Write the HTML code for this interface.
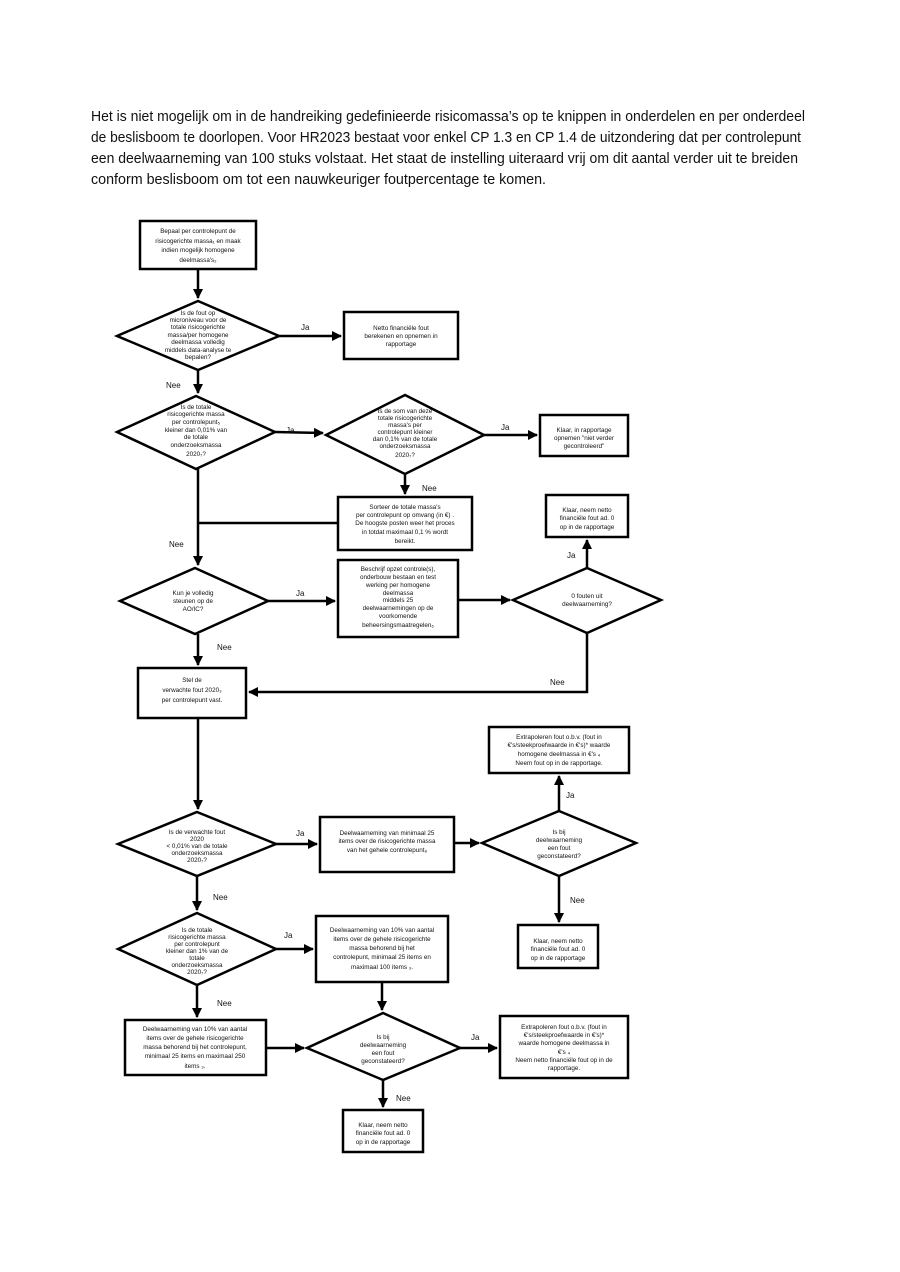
<!DOCTYPE html>
<html><head><meta charset="utf-8"><style>
html,body{margin:0;padding:0;background:#fff;}
svg{display:block;font-family:"Liberation Sans",sans-serif;}
.t{font-size:6.3px;text-anchor:middle;fill:#111;}
.l{font-size:8px;fill:#111;}
.h{font-size:14.5px;fill:#111;}
</style></head><body>
<svg width="900" height="1272" viewBox="0 0 900 1272" xmlns="http://www.w3.org/2000/svg">
<defs><marker id="a" markerWidth="6" markerHeight="6" refX="5" refY="3" orient="auto" markerUnits="userSpaceOnUse"><path d="M0,0 L6,3 L0,6 z" fill="#000"/></marker>
<marker id="b" markerWidth="10" markerHeight="10" refX="9" refY="5" orient="auto" markerUnits="userSpaceOnUse"><path d="M0,0 L10,5 L0,10 z" fill="#000"/></marker></defs>

<text class="h" x="91" y="121" textLength="714" lengthAdjust="spacingAndGlyphs">Het is niet mogelijk om in de handreiking gedefinieerde risicomassa’s op te knippen in onderdelen en per onderdeel</text>
<text class="h" x="91" y="142" textLength="710" lengthAdjust="spacingAndGlyphs">de beslisboom te doorlopen. Voor HR2023 bestaat voor enkel  CP 1.3 en CP 1.4 de uitzondering dat per controlepunt</text>
<text class="h" x="91" y="163" textLength="707" lengthAdjust="spacingAndGlyphs">een deelwaarneming van 100 stuks volstaat. Het staat de instelling uiteraard vrij om dit aantal verder uit te breiden</text>
<text class="h" x="91" y="184" textLength="455" lengthAdjust="spacingAndGlyphs">conform beslisboom om tot een nauwkeuriger foutpercentage te komen.</text>

<g fill="none" stroke="#000" stroke-width="2.5">
<!-- boxes -->
<rect x="140" y="221" width="116" height="48"/>
<rect x="344" y="312" width="114" height="47"/>
<rect x="540" y="415" width="88" height="41"/>
<rect x="338" y="497" width="134" height="53"/>
<rect x="546" y="495" width="82" height="42"/>
<rect x="338" y="560" width="120" height="77"/>
<rect x="138" y="668" width="108" height="50"/>
<rect x="320" y="817" width="134" height="55"/>
<rect x="489" y="727" width="140" height="46"/>
<rect x="518" y="925" width="80" height="43"/>
<rect x="316" y="916" width="132" height="66"/>
<rect x="125" y="1020" width="141" height="55"/>
<rect x="500" y="1016" width="128" height="62"/>
<rect x="343" y="1110" width="80" height="42"/>
<!-- diamonds -->
<polygon points="198,301 279,336 198,370 117,336"/>
<polygon points="196,396 275,432 196,469 117,432"/>
<polygon points="405,395 484,435 405,474 326,435"/>
<polygon points="195,568 268,601 195,634 120,601"/>
<polygon points="587,568 661,600 587,633 513,600"/>
<polygon points="197,812 276,844 197,876 118,844"/>
<polygon points="559,811 636,843 559,876 482,843"/>
<polygon points="197,913 276,949 197,985 118,949"/>
<polygon points="383,1013 460,1048 383,1080 307,1048"/>
</g>
<g fill="none" stroke="#000" stroke-width="2.5">
<line x1="198" y1="269" x2="198" y2="298" marker-end="url(#b)"/>
<line x1="279" y1="336" x2="341" y2="336" marker-end="url(#b)"/>
<line x1="198" y1="370" x2="198" y2="393" marker-end="url(#b)"/>
<line x1="275" y1="432" x2="323" y2="433" marker-end="url(#b)"/>
<line x1="484" y1="435" x2="537" y2="435" marker-end="url(#b)"/>
<line x1="405" y1="474" x2="405" y2="494" marker-end="url(#b)"/>
<line x1="198" y1="469" x2="198" y2="565" marker-end="url(#b)"/>
<line x1="198" y1="523" x2="338" y2="523"/>
<line x1="268" y1="601" x2="335" y2="601" marker-end="url(#b)"/>
<line x1="458" y1="600" x2="510" y2="600" marker-end="url(#b)"/>
<line x1="587" y1="568" x2="587" y2="540" marker-end="url(#b)"/>
<polyline points="587,633 587,692 249,692" marker-end="url(#b)"/>
<line x1="198" y1="634" x2="198" y2="665" marker-end="url(#b)"/>
<line x1="198" y1="718" x2="198" y2="809" marker-end="url(#b)"/>
<line x1="276" y1="844" x2="317" y2="844" marker-end="url(#b)"/>
<line x1="454" y1="843" x2="479" y2="843" marker-end="url(#b)"/>
<line x1="559" y1="811" x2="559" y2="776" marker-end="url(#b)"/>
<line x1="559" y1="876" x2="559" y2="922" marker-end="url(#b)"/>
<line x1="197" y1="876" x2="197" y2="910" marker-end="url(#b)"/>
<line x1="276" y1="949" x2="313" y2="949" marker-end="url(#b)"/>
<line x1="382" y1="982" x2="382" y2="1010" marker-end="url(#b)"/>
<line x1="197" y1="985" x2="197" y2="1017" marker-end="url(#b)"/>
<line x1="266" y1="1048" x2="304" y2="1048" marker-end="url(#b)"/>
<line x1="460" y1="1048" x2="497" y2="1048" marker-end="url(#b)"/>
<line x1="383" y1="1080" x2="383" y2="1107" marker-end="url(#b)"/>
</g>

<!-- labels -->
<g class="l">
<text x="301" y="330">Ja</text><text x="166" y="388">Nee</text>
<text x="286" y="433">Ja</text><text x="501" y="430">Ja</text>
<text x="422" y="491">Nee</text><text x="169" y="547">Nee</text>
<text x="296" y="596">Ja</text><text x="567" y="558">Ja</text>
<text x="217" y="650">Nee</text><text x="550" y="685">Nee</text>
<text x="296" y="836">Ja</text><text x="566" y="798">Ja</text>
<text x="213" y="900">Nee</text><text x="570" y="903">Nee</text>
<text x="284" y="938">Ja</text><text x="217" y="1006">Nee</text>
<text x="471" y="1040">Ja</text><text x="396" y="1101">Nee</text>
</g>

<!-- node texts -->
<g class="t">
<text x="198" y="233">Bepaal per controlepunt de</text>
<text x="198" y="243">risicogerichte massa₁ en maak</text>
<text x="198" y="252">indien mogelijk homogene</text>
<text x="198" y="262">deelmassa's₂</text>

<text x="198" y="315">Is de fout op</text>
<text x="198" y="322">microniveau voor de</text>
<text x="198" y="329">totale risicogerichte</text>
<text x="198" y="337">massa/per homogene</text>
<text x="198" y="344">deelmassa volledig</text>
<text x="198" y="352">middels data-analyse te</text>
<text x="198" y="359">bepalen?</text>

<text x="401" y="330">Netto financiële fout</text>
<text x="401" y="338">berekenen en opnemen in</text>
<text x="401" y="346">rapportage</text>

<text x="196" y="409">Is de totale</text>
<text x="196" y="416">risicogerichte massa</text>
<text x="196" y="424">per controlepunt₅</text>
<text x="196" y="432">kleiner dan 0,01% van</text>
<text x="196" y="439">de totale</text>
<text x="196" y="447">onderzoeksmassa</text>
<text x="196" y="456">2020₇?</text>

<text x="405" y="413">Is de som van deze</text>
<text x="405" y="420">totale risicogerichte</text>
<text x="405" y="427">massa's per</text>
<text x="405" y="434">controlepunt kleiner</text>
<text x="405" y="441">dan 0,1% van de totale</text>
<text x="405" y="448">onderzoeksmassa</text>
<text x="405" y="457">2020₇?</text>

<text x="584" y="432">Klaar, in rapportage</text>
<text x="584" y="440">opnemen "niet verder</text>
<text x="584" y="448">gecontroleerd"</text>

<text x="405" y="509">Sorteer de totale massa's</text>
<text x="405" y="517">per controlepunt op omvang (in €) .</text>
<text x="405" y="525">De hoogste posten weer het proces</text>
<text x="405" y="534">in totdat maximaal 0,1 % wordt</text>
<text x="405" y="543">bereikt.</text>

<text x="587" y="512">Klaar, neem netto</text>
<text x="587" y="520">financiële fout ad. 0</text>
<text x="587" y="529">op in de rapportage</text>

<text x="193" y="595">Kun je volledig</text>
<text x="193" y="603">steunen op de</text>
<text x="193" y="611">AO/IC?</text>

<text x="398" y="571">Beschrijf opzet controle(s),</text>
<text x="398" y="579">onderbouw bestaan en test</text>
<text x="398" y="587">werking per homogene</text>
<text x="398" y="595">deelmassa</text>
<text x="398" y="602">middels 25</text>
<text x="398" y="610">deelwaarnemingen op de</text>
<text x="398" y="618">voorkomende</text>
<text x="398" y="627">beheersingsmaatregelen₆</text>

<text x="587" y="598">0 fouten uit</text>
<text x="587" y="606">deelwaarneming?</text>

<text x="192" y="682">Stel de</text>
<text x="192" y="692">verwachte fout 2020₃</text>
<text x="192" y="702">per controlepunt vast.</text>

<text x="197" y="834">Is de verwachte fout</text>
<text x="197" y="841">2020</text>
<text x="197" y="848">&lt; 0,01% van de totale</text>
<text x="197" y="855">onderzoeksmassa</text>
<text x="197" y="862">2020₇?</text>

<text x="387" y="835">Deelwaarneming van minimaal 25</text>
<text x="387" y="843">items over de risicogerichte massa</text>
<text x="387" y="852">van het gehele controlepunt₈</text>

<text x="559" y="834">Is bij</text>
<text x="559" y="842">deelwaarneming</text>
<text x="559" y="850">een fout</text>
<text x="559" y="858">geconstateerd?</text>

<text x="559" y="739">Extrapoleren fout o.b.v. (fout in</text>
<text x="559" y="747">€'s/steekproefwaarde in €'s)* waarde</text>
<text x="559" y="756">homogene deelmassa in €'s ₄</text>
<text x="559" y="765">Neem fout op in de rapportage.</text>

<text x="558" y="943">Klaar, neem netto</text>
<text x="558" y="951">financiële fout ad. 0</text>
<text x="558" y="960">op in de rapportage</text>

<text x="197" y="932">Is de totale</text>
<text x="197" y="939">risicogerichte massa</text>
<text x="197" y="946">per controlepunt</text>
<text x="197" y="953">kleiner dan 1% van de</text>
<text x="197" y="960">totale</text>
<text x="197" y="967">onderzoeksmassa</text>
<text x="197" y="974">2020₇?</text>

<text x="382" y="932">Deelwaarneming van 10% van aantal</text>
<text x="382" y="941">items over de gehele risicogerichte</text>
<text x="382" y="950">massa behorend bij het</text>
<text x="382" y="959">controlepunt, minimaal 25 items en</text>
<text x="382" y="969">maximaal 100 items ₃.</text>

<text x="195" y="1031">Deelwaarneming van 10% van aantal</text>
<text x="195" y="1040">items over de gehele risicogerichte</text>
<text x="195" y="1049">massa behorend bij het controlepunt,</text>
<text x="195" y="1058">minimaal 25 items en maximaal 250</text>
<text x="195" y="1068">items ₃.</text>

<text x="383" y="1039">Is bij</text>
<text x="383" y="1047">deelwaarneming</text>
<text x="383" y="1055">een fout</text>
<text x="383" y="1063">geconstateerd?</text>

<text x="564" y="1029">Extrapoleren fout o.b.v. (fout in</text>
<text x="564" y="1037">€'s/steekproefwaarde in €'s)*</text>
<text x="564" y="1045">waarde homogene deelmassa in</text>
<text x="564" y="1054">€'s ₄</text>
<text x="564" y="1062">Neem netto financiële fout op in de</text>
<text x="564" y="1070">rapportage.</text>

<text x="383" y="1127">Klaar, neem netto</text>
<text x="383" y="1135">financiële fout ad. 0</text>
<text x="383" y="1144">op in de rapportage</text>
</g>
</svg>
</body></html>
